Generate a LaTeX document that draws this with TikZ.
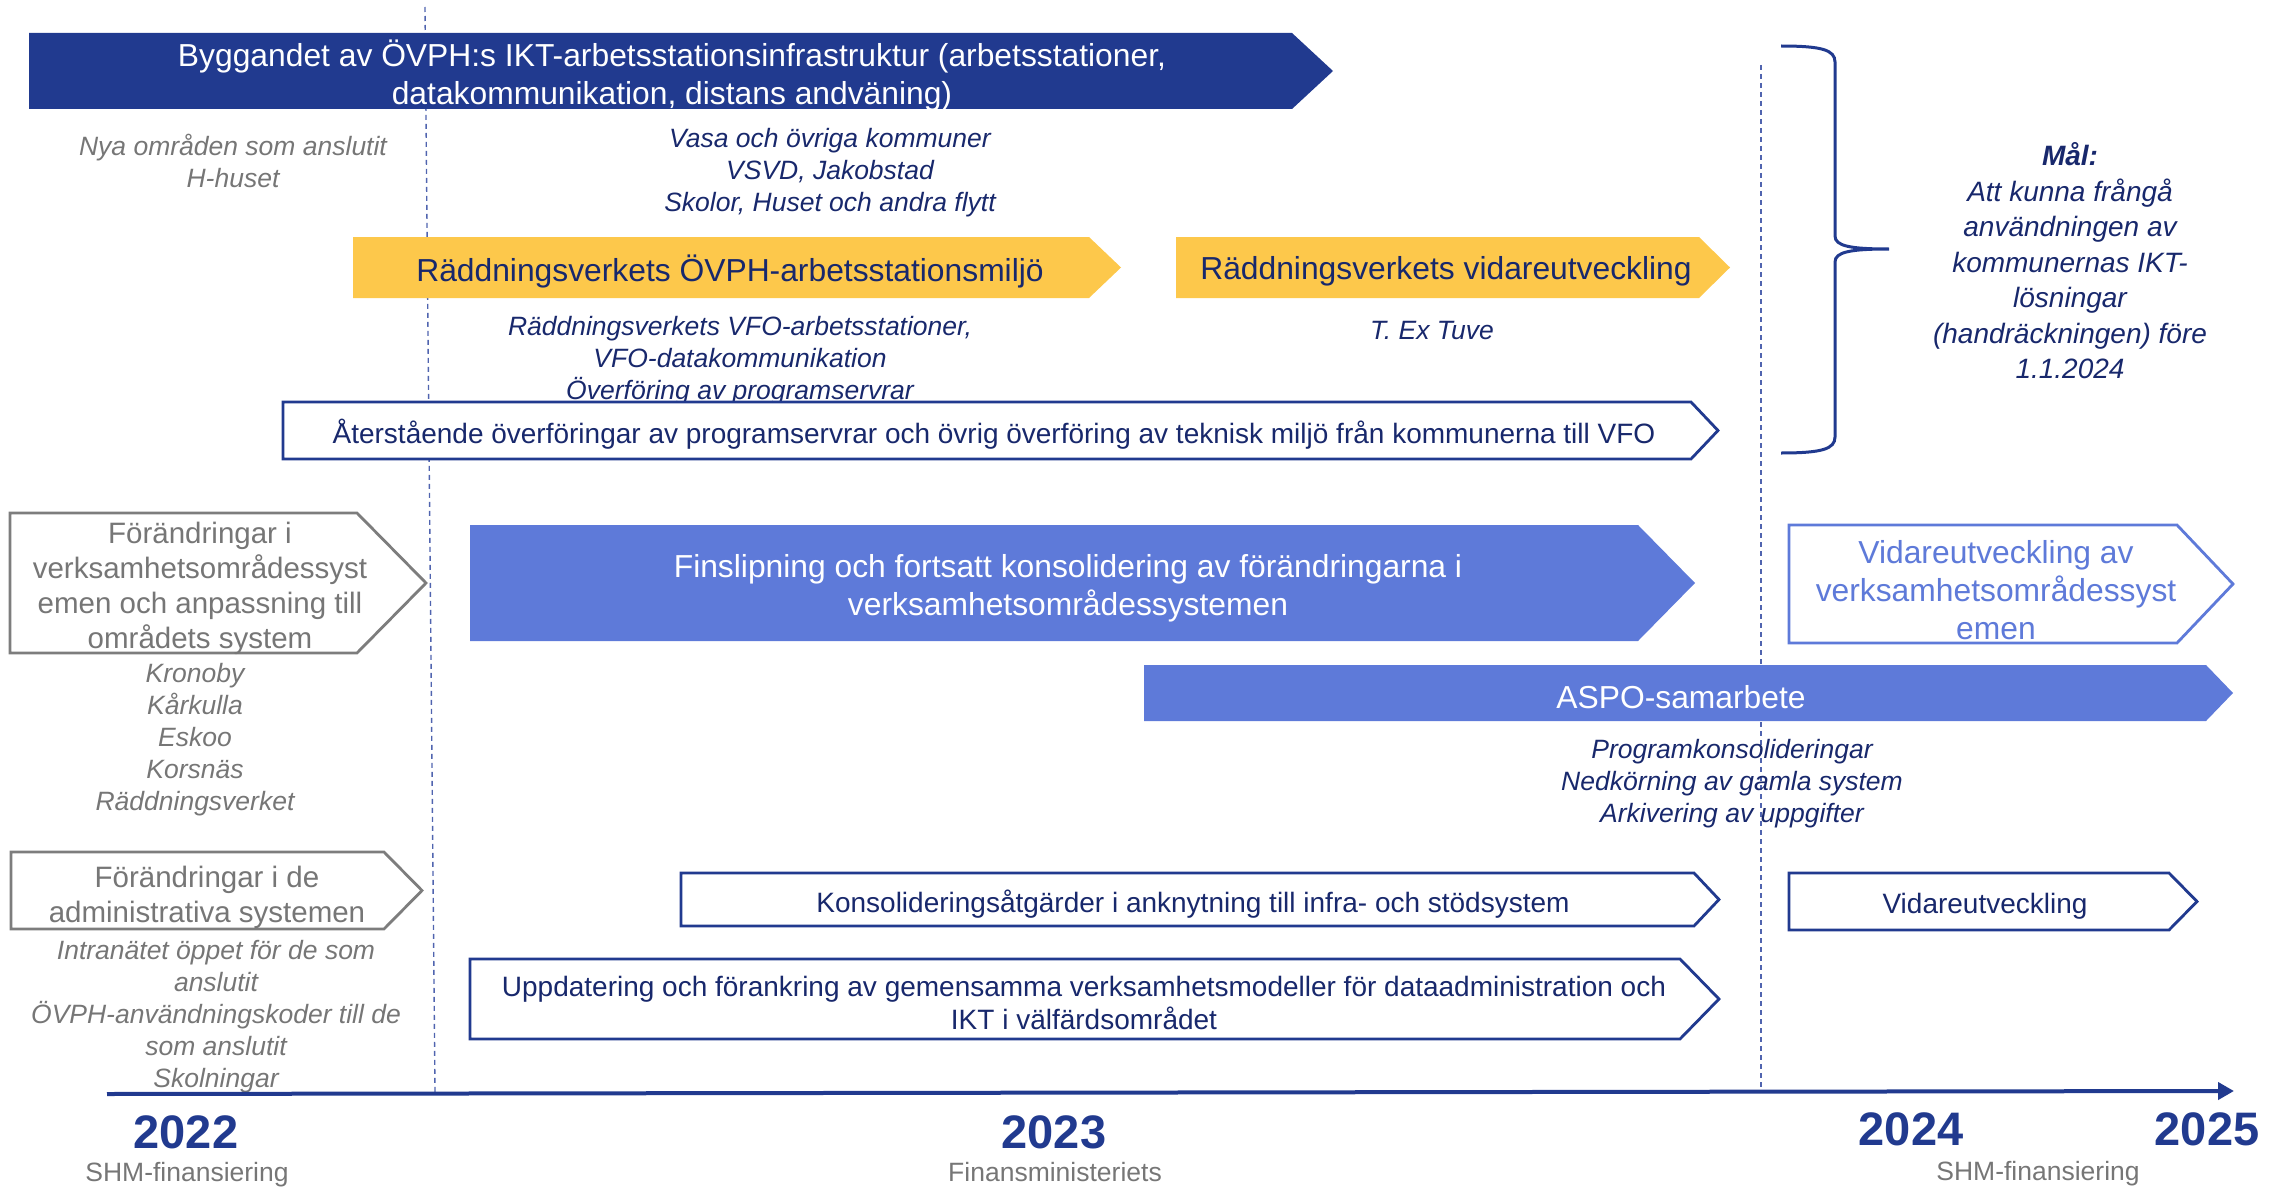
\documentclass[tikz,border=0pt]{standalone}
\usepackage{fontspec}
\setmainfont{Liberation Sans}
\usetikzlibrary{arrows.meta}
\definecolor{navyfill}{RGB}{33,58,143}
\definecolor{navytext}{RGB}{24,40,108}
\definecolor{midblue}{RGB}{94,122,217}
\definecolor{gold}{RGB}{253,200,75}
\definecolor{greyline}{RGB}{125,125,125}
\definecolor{greytext}{RGB}{118,118,118}
\definecolor{dashblue}{RGB}{80,100,175}
\begin{document}
\begin{tikzpicture}[x=1pt,y=-1pt,
  lbl/.style={inner sep=0pt, align=center, yshift=-3pt},
  basel/.style={inner sep=0pt, align=center, anchor=base},
  bigf/.style={font=\fontsize{31.8}{38}\selectfont},
  midf/.style={font=\fontsize{28}{33}\selectfont},
  greyf/.style={font=\fontsize{29.5}{35}\selectfont, text=greytext},
  notef/.style={font=\fontsize{26.5}{32}\selectfont\itshape, text=navytext},
  greynote/.style={font=\fontsize{26.5}{32}\selectfont\itshape, text=greytext},
  goalf/.style={font=\fontsize{28}{35.5}\selectfont\itshape, text=navytext},
  yearf/.style={font=\fontsize{47}{50}\selectfont\bfseries, text=navyfill},
  subf/.style={font=\fontsize{26.5}{30}\selectfont, text=greytext},
  outlinebox/.style={draw=navyfill, line width=2.8pt, fill=white, line join=miter},
  greybox/.style={draw=greyline, line width=2.8pt, fill=white},
  dashline/.style={draw=dashblue, line width=1.4pt, dash pattern=on 5pt off 4pt}
]
\useasboundingbox (0,0) rectangle (2276,1188);

% dashed separators
\coordinate (d1t) at (425,7);
\coordinate (d1b) at (435,1092);
\coordinate (d2t) at (1761,65);
\coordinate (d2b) at (1761,1090);
\draw[dashline] (d1t) -- (d1b);
\draw[dashline] (d2t) -- (d2b);

% dark arrow
\fill[navyfill] (29,33) -- (1292,33) -- (1333,71) -- (1292,109) -- (29,109) -- cycle;
\node[lbl, bigf, text=white] (bygg) at (672,72) {Byggandet av ÖVPH:s IKT-arbetsstationsinfrastruktur (arbetsstationer,\\datakommunikation, distans andväning)};

\node[lbl, greynote] (nya) at (233,158) {Nya områden som anslutit\\H-huset};
\node[lbl, notef] (vasa) at (830,170) {Vasa och övriga kommuner\\VSVD, Jakobstad\\Skolor, Huset och andra flytt};

% yellow arrows
\fill[gold] (353,237) -- (1089,237) -- (1121,267.5) -- (1089,298) -- (353,298) -- cycle;
\node[lbl, bigf, text=navytext] (rv1) at (730,268) {Räddningsverkets ÖVPH-arbetsstationsmiljö};
\fill[gold] (1176,237) -- (1699,237) -- (1730,267.5) -- (1699,298) -- (1176,298) -- cycle;
\node[lbl, bigf, text=navytext] (rv2) at (1446,268) {Räddningsverkets vidareutveckling};

\node[lbl, notef] (vfo) at (740,358) {Räddningsverkets VFO-arbetsstationer,\\VFO-datakommunikation\\Överföring av programservrar};
\node[lbl, notef] (tuve) at (1432,328) {T. Ex Tuve};

% Återstående
\path[outlinebox] (283,402) -- (1691,402) -- (1718,430.5) -- (1691,459) -- (283,459) -- cycle;
\node[lbl, midf, text=navytext] (ater) at (994,431) {Återstående överföringar av programservrar och övrig överföring av teknisk miljö från kommunerna till VFO};

% brace and goal
\draw[navyfill, line width=3pt] (1781,46) .. controls (1822,46) and (1835,50) .. (1835,62) -- (1835,236) .. controls (1835,246) and (1850,249) .. (1889,249) .. controls (1850,249) and (1835,252) .. (1835,262) -- (1835,437) .. controls (1835,449) and (1822,453) .. (1781,453);
\node[lbl, goalf] (goal) at (2070,258) {\textbf{Mål:}\\Att kunna frångå\\användningen av\\kommunernas IKT-\\lösningar\\(handräckningen) före\\1.1.2024};

% grey box 1
\path[greybox] (10,513) -- (357,513) -- (426,583) -- (357,653) -- (10,653) -- cycle;
\node[lbl, greyf] (forand1) at (200,585) {Förändringar i\\verksamhetsområdessyst\\emen och anpassning till\\områdets system};
\node[lbl, greynote] (kron) at (195,737) {Kronoby\\Kårkulla\\Eskoo\\Korsnäs\\Räddningsverket};

% Finslipning
\fill[midblue] (470,525) -- (1638,525) -- (1695,583) -- (1638,641) -- (470,641) -- cycle;
\node[lbl, bigf, text=white] (fins) at (1068,585) {Finslipning och fortsatt konsolidering av förändringarna i\\verksamhetsområdessystemen};

% Vidareutveckling av
\path[draw=midblue, line width=2.8pt, fill=white] (1789,525) -- (2177,525) -- (2233,584) -- (2177,643) -- (1789,643) -- cycle;
\node[lbl, bigf, text=midblue] (vid1) at (1996,587) {Vidareutveckling av\\verksamhetsområdessyst\\emen};

% ASPO
\fill[midblue] (1144,665) -- (2206,665) -- (2233,693) -- (2206,721) -- (1144,721) -- cycle;
\node[lbl, bigf, text=white] (aspo) at (1681,694) {ASPO-samarbete};
\node[lbl, notef] (prog) at (1732,781) {Programkonsolideringar\\Nedkörning av gamla system\\Arkivering av uppgifter};

% grey box 2
\path[greybox] (11,852) -- (384,852) -- (422,890.5) -- (384,929) -- (11,929) -- cycle;
\node[lbl, greyf] (forand2) at (207,894) {Förändringar i de\\administrativa systemen};
\node[lbl, greynote] (intra) at (216,1014) {Intranätet öppet för de som\\anslutit\\ÖVPH-användningskoder till de\\som anslutit\\Skolningar};

% Konsolidering
\path[outlinebox] (681,873) -- (1694,873) -- (1719,899.5) -- (1694,926) -- (681,926) -- cycle;
\node[lbl, midf, text=navytext] (kons) at (1193,901) {Konsolideringsåtgärder i anknytning till infra- och stödsystem};

% Uppdatering
\path[outlinebox] (470,959) -- (1680,959) -- (1719,999) -- (1680,1039) -- (470,1039) -- cycle;
\node[lbl, midf, text=navytext] (uppd) at (1084,1000) {Uppdatering och förankring av gemensamma verksamhetsmodeller för dataadministration och\\IKT i välfärdsområdet};

% Vidareutveckling
\path[outlinebox] (1789,873) -- (2169,873) -- (2197,901.5) -- (2169,930) -- (1789,930) -- cycle;
\node[lbl, midf, text=navytext] (vid2) at (1985,903) {Vidareutveckling};

% axis
\coordinate (ax0) at (107,1094);
\coordinate (ax1) at (2234,1091);
\draw[navyfill, line width=4pt, -{Triangle[length=16pt,width=17pt]}] (ax0) -- (ax1);

\node[basel, yearf] (y22) at (186,1148) {2022};
\node[basel, yearf] (y23) at (1054,1148) {2023};
\node[basel, yearf] (y24) at (1911,1145) {2024};
\node[basel, yearf] (y25) at (2207,1145) {2025};

\node[basel, subf] (s22) at (187,1181) {SHM-finansiering};
\node[basel, subf] (s23) at (1055,1181) {Finansministeriets};
\node[basel, subf] (s24) at (2038,1180) {SHM-finansiering};
\end{tikzpicture}
\end{document}
